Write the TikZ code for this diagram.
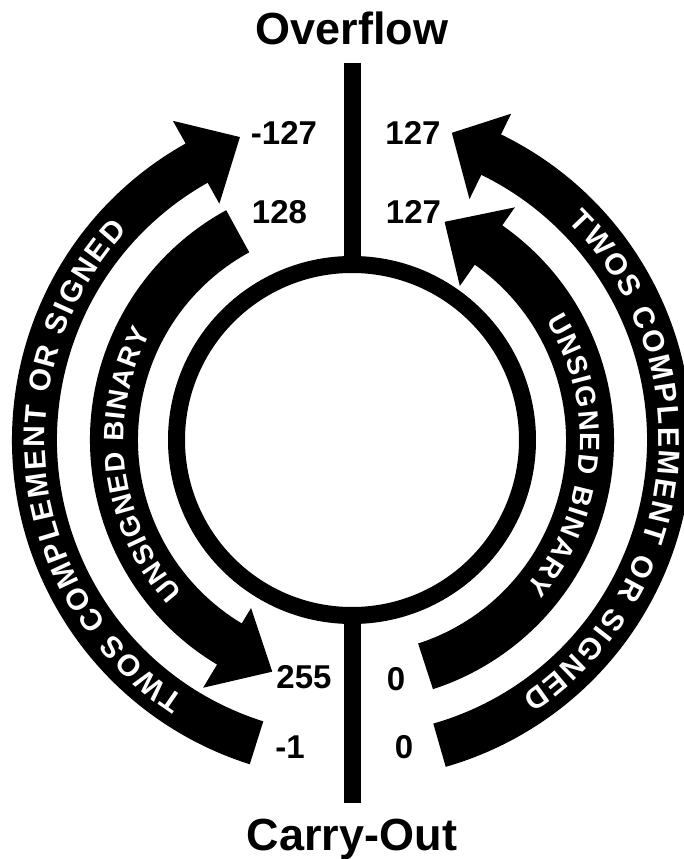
\documentclass[tikz,border=0pt]{standalone}
\usepackage{fontspec}
\setmainfont{Liberation Sans}
\usetikzlibrary{decorations.text}
\newcommand\arcfontout{\color{white}\fontsize{30}{30}\selectfont\bfseries}
\newcommand\arcfontin{\color{white}\fontsize{28}{28}\selectfont\bfseries}
\begin{document}
\begin{tikzpicture}[x=1pt,y=1pt,
  band/.style={fill=black,draw=none},
  numlabel/.style={font=\fontsize{33}{33}\selectfont\bfseries,inner sep=0pt,anchor=base},
  title/.style={font=\fontsize{45}{45}\selectfont\bfseries,inner sep=0pt,anchor=base},
  bar/.style={line width=17pt,draw=black},
  arctextout/.style={decorate,decoration={text along path,text align={fit to path},text={|\arcfontout|#1}}},
  arctextin/.style={decorate,decoration={text along path,text align={fit to path},text={|\arcfontin|#1}}}]
\useasboundingbox (-352,-419) rectangle (332,440);
\clip (-352,-419) rectangle (332,440);
% central ring and bars
\node[circle,draw,line width=17pt,minimum size=351pt,inner sep=0pt] (ring) at (0,0) {};
\coordinate (topend) at (0,377);
\coordinate (botend) at (0,-363);
\draw[bar] (ring.north) -- (topend);
\draw[bar] (ring.south) -- (botend);
% left outer arrow
\fill[band] (252.5:295) arc[start angle=252.5,end angle=119.3,radius=295] -- (119.3:271) -- (110.3:323) -- (119.3:366) -- (119.3:340) arc[start angle=119.3,end angle=252.5,radius=340] -- cycle;
% left inner arrow
\fill[band] (118.7:214) arc[start angle=118.7,end angle=239,radius=214] -- (239:196) -- (251:245) -- (239:289) -- (239:262) arc[start angle=239,end angle=118.7,radius=262] -- cycle;
% right outer arrow
\fill[band] (-74:295) arc[start angle=-74,end angle=64,radius=295] -- (64:268) -- (72:323) -- (64:363) -- (64:340) arc[start angle=64,end angle=-74,radius=340] -- cycle;
% right inner arrow
\fill[band] (-72:214) arc[start angle=-72,end angle=55,radius=214] -- (55:188) -- (67:237) -- (55:284) -- (55:262) arc[start angle=55,end angle=-72,radius=262] -- cycle;
% arc texts
\path[arctextout={TWOS COMPLEMENT OR SIGNED}] (237:307) arc[start angle=237,end angle=137,radius=307];
\path[arctextin={UNSIGNED BINARY}] (222:228) arc[start angle=222,end angle=152,radius=228];
\path[arctextout={TWOS COMPLEMENT OR SIGNED}] (45.4:307) arc[start angle=45.4,end angle=-56.5,radius=307];
\path[arctextin={UNSIGNED BINARY}] (31.7:228) arc[start angle=31.7,end angle=-40.3,radius=228];
% numbers
\node[numlabel] (lm127) at (-68,295) {-127};
\node[numlabel] (rp127a) at (61,295) {127};
\node[numlabel] (l128) at (-72.5,216) {128};
\node[numlabel] (rp127b) at (61.5,216) {127};
\node[numlabel] (l255) at (-48,-248) {255};
\node[numlabel] (lm1) at (-62,-318) {-1};
\node[numlabel] (r0a) at (44,-250) {0};
\node[numlabel] (r0b) at (52,-318) {0};
% titles
\node[title] (ovf) at (0,395) {Overflow};
\node[title] (cout) at (0,-410) {Carry-Out};
\end{tikzpicture}
\end{document}
